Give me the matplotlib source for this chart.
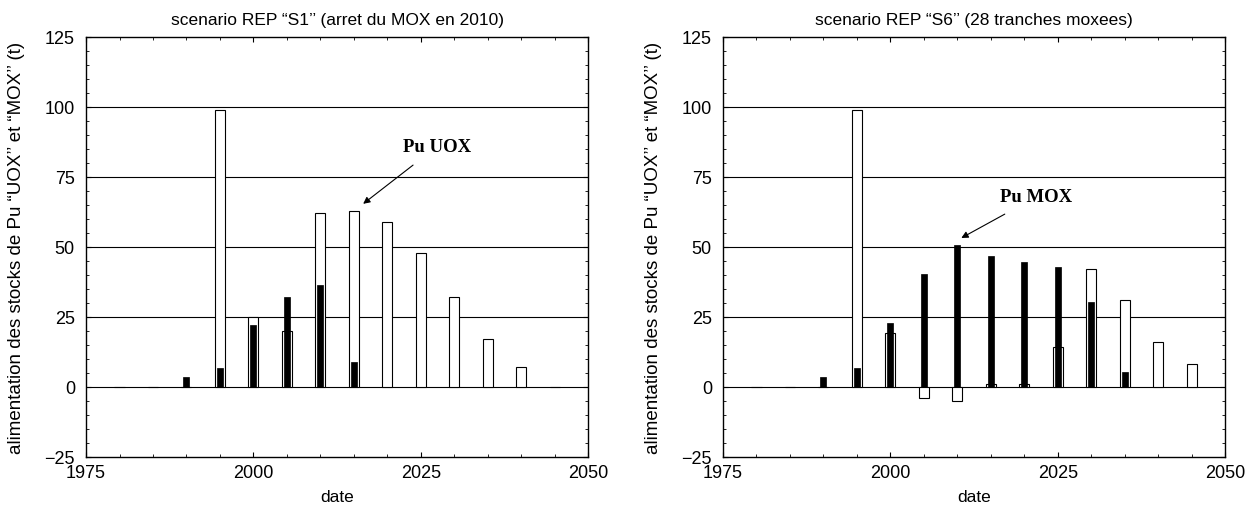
import matplotlib
matplotlib.use('Agg')
from matplotlib import pyplot as plt
from matplotlib.ticker import MultipleLocator

plt.rcParams['font.family'] = ['Liberation Sans', 'DejaVu Sans']
plt.rcParams['font.size'] = 13

years = [1980, 1985, 1990, 1995, 2000, 2005, 2010, 2015, 2020, 2025, 2030, 2035, 2040, 2045]

# scenario S1 (arret du MOX en 2010)
s1_uox = [0, 0, 0, 99, 25, 20, 62.2, 63, 59, 48, 32.2, 17, 7.2, 0]
s1_mox = [0, 0, 3.7, 6.7, 22.2, 32.2, 36.4, 8.8, 0, 0, 0, 0, 0, 0]

# scenario S6 (28 tranches moxees)
s6_uox = [0, 0, 0, 99, 19.1, -3.9, -5.0, 1.2, 1.2, 14.1, 42.2, 31.1, 16.2, 8.1]
s6_mox = [0, 0, 3.7, 6.7, 22.8, 40.3, 50.8, 46.8, 44.6, 42.8, 30.4, 5.4, 0, 0]

titles = ['scenario REP \u201cS1\u2019\u2019 (arret du MOX en 2010)',
          'scenario REP \u201cS6\u2019\u2019 (28 tranches moxees)']
ylabel = 'alimentation des stocks de Pu \u201cUOX\u2019\u2019 et \u201cMOX\u2019\u2019 (t)'

fig = plt.figure(figsize=(12.47, 5.06), dpi=100)
ax1 = fig.add_axes([0.069, 0.095, 0.4026, 0.830])
ax2 = fig.add_axes([0.5798, 0.095, 0.4026, 0.830])


def draw_panel(ax, uox, mox, title):
    for y in [0, 25, 50, 75, 100]:
        ax.axhline(y, color='k', lw=0.8, zorder=1)
    ax.bar(years, uox, width=1.5, color='white', edgecolor='k', linewidth=0.8, zorder=2)
    ax.bar(years, mox, width=0.9, color='black', edgecolor='k', linewidth=0.5, zorder=3)
    ax.set_xlim(1975, 2050)
    ax.set_ylim(-25, 125)
    ax.xaxis.set_major_locator(MultipleLocator(25))
    ax.xaxis.set_minor_locator(MultipleLocator(5))
    ax.yaxis.set_major_locator(MultipleLocator(25))
    ax.yaxis.set_minor_locator(MultipleLocator(5))
    ax.tick_params(which='both', direction='in', top=True, right=True, labelsize=13)
    ax.tick_params(which='major', length=3.5, width=0.8)
    ax.tick_params(which='minor', length=2, width=0.6)
    ax.tick_params(axis='x', which='major', pad=5)
    ax.tick_params(axis='y', which='major', pad=8)
    for s in ax.spines.values():
        s.set_linewidth(1.0)
    ax.set_xlabel('date', fontsize=12.5, labelpad=6)
    ax.set_ylabel(ylabel, fontsize=13.5, labelpad=14)
    ax.set_title(title, fontsize=12.5, pad=9)


draw_panel(ax1, s1_uox, s1_mox, titles[0])
draw_panel(ax2, s6_uox, s6_mox, titles[1])

ax1.annotate('Pu UOX', xy=(2016.4, 65.4), xytext=(2027.5, 86),
             fontfamily='Liberation Serif', fontweight='bold', fontsize=13.5,
             ha='center', va='center',
             arrowprops=dict(arrowstyle='-|>', color='k', lw=0.8,
                             shrinkA=9, shrinkB=0, mutation_scale=10))
ax2.annotate('Pu MOX', xy=(2010.6, 53.2), xytext=(2021.8, 67.9),
             fontfamily='Liberation Serif', fontweight='bold', fontsize=13.5,
             ha='center', va='center',
             arrowprops=dict(arrowstyle='-|>', color='k', lw=0.8,
                             shrinkA=9, shrinkB=0, mutation_scale=10))

fig.savefig('out.png', dpi=100)
